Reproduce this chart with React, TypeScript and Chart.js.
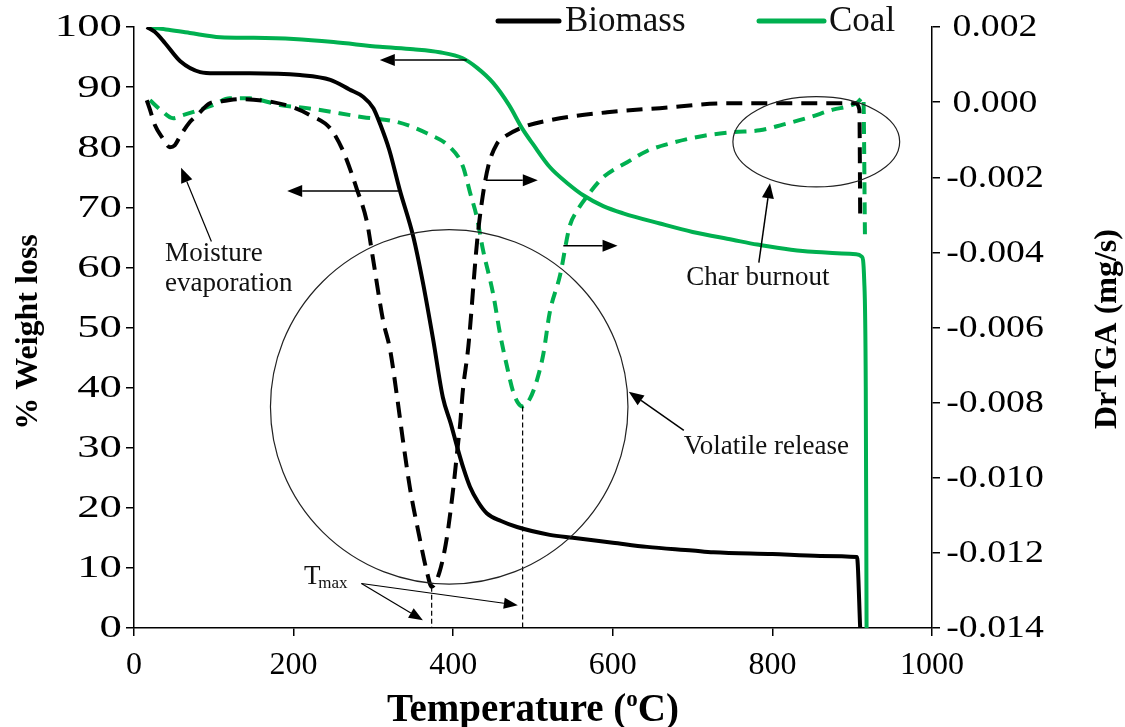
import React, { useEffect, useRef } from "react";
import { Chart, registerables } from "chart.js";

Chart.register(...registerables);

// Biomass weight curve (TGA): temperature (°C) and remaining weight (%)
const biomassTgaT = [16, 26, 39, 58, 83, 101, 145, 208, 246, 270, 287, 300, 308, 320, 333, 350, 362, 375, 387, 397, 405, 413, 421, 431, 442, 460, 480, 521, 550, 600, 643, 700, 726, 800, 860, 906, 910];
const biomassTgaW = [100, 99.2, 97.3, 94.3, 92.5, 92.3, 92.3, 92.0, 91.2, 89.6, 88.4, 86.5, 84.0, 79.5, 72.9, 65.1, 57.5, 47.9, 38.4, 34.0, 30.1, 26.5, 23.5, 21.0, 19.1, 17.8, 16.8, 15.5, 15.0, 14.2, 13.5, 12.9, 12.6, 12.3, 12.0, 11.8, 0];

// Coal weight curve (TGA)
const coalTgaT = [17, 40, 70, 108, 150, 200, 250, 308, 350, 383, 412, 430, 450, 470, 487, 500, 521, 545, 563, 588, 613, 659, 700, 750, 781, 850, 905, 912, 915, 917, 918];
const coalTgaW = [100, 99.6, 99.0, 98.3, 98.2, 98.0, 97.5, 96.7, 96.3, 95.8, 94.8, 93.2, 90.7, 87.0, 83.0, 80.5, 76.7, 73.8, 72.0, 70.2, 69.0, 67.3, 65.9, 64.6, 63.8, 62.6, 62.2, 61.8, 58.0, 40.0, 0];

// Biomass derivative curve (DrTGA, mg/s)
const biomassDtgT = [16, 20, 26, 36, 45, 51, 58, 70, 79, 95, 112, 133, 174, 202, 221, 246, 262, 279, 292, 299, 312, 321, 330, 337, 346, 356, 367, 373, 383, 392, 400, 405, 409, 412, 419, 430, 437, 444, 455, 462, 487, 521, 593, 659, 743, 835, 904, 909, 910];
const biomassDtgD = [0.00005, -0.0002, -0.0006, -0.00096, -0.0012, -0.00115, -0.0009, -0.00053, -0.00035, -0.00003, 0.00003, 0.00008, 0.0, -0.00016, -0.00035, -0.0007, -0.0013, -0.0023, -0.0032, -0.0041, -0.0058, -0.0066, -0.0079, -0.009, -0.0103, -0.0114, -0.0125, -0.0129, -0.0125, -0.0116, -0.0103, -0.0093, -0.0085, -0.0077, -0.0065, -0.0037, -0.0025, -0.0017, -0.0011, -0.00096, -0.00067, -0.00048, -0.00027, -0.00016, -0.00003, -0.00003, -0.00003, -0.0002, -0.0030];

// Coal derivative curve (DrTGA, mg/s)
const coalDtgT = [20, 33, 49, 61, 83, 99, 120, 145, 183, 217, 287, 330, 367, 396, 412, 421, 430, 437, 450, 459, 467, 475, 481, 487, 496, 505, 513, 521, 534, 546, 555, 568, 588, 618, 643, 672, 713, 751, 784, 813, 847, 876, 897, 907, 914, 916];
const coalDtgD = [0.00005, -0.0002, -0.00043, -0.00035, -0.0002, -0.00008, 0.0001, 0.0001, -0.00008, -0.00016, -0.0004, -0.00053, -0.00083, -0.0012, -0.0017, -0.0024, -0.0031, -0.0039, -0.0051, -0.0062, -0.007, -0.0077, -0.008, -0.0081, -0.0079, -0.0074, -0.0067, -0.0056, -0.0046, -0.0033, -0.0029, -0.0025, -0.002, -0.0016, -0.0013, -0.0011, -0.0009, -0.0008, -0.00075, -0.0006, -0.0004, -0.0002, -0.0001, 0.0, 0.00013, -0.0036];

const seriesNames = ["Biomass", "Coal"];
const xTicks = [0, 200, 400, 600, 800, 1000];

const BLACK = "#000000";
const GREEN = "#00B050";
const FONT = '"Liberation Serif", "Times New Roman", serif';

const pairs = (xs: number[], ys: number[]) => xs.map((x, i) => ({ x, y: ys[i] }));
const fmtRate = (v: number) => (Math.abs(v) < 1e-9 ? "0.000" : v.toFixed(3));

type Pt = [number, number];

// Find the minimum of a derivative curve (peak rate temperature)
function minPoint(xs: number[], ys: number[]): Pt {
  let k = 0;
  ys.forEach((v, i) => {
    if (v < ys[k]) k = i;
  });
  return [xs[k], ys[k]];
}

const overlayPlugin = {
  id: "overlay",
  afterDraw(chart: any) {
    const { ctx, scales } = chart;
    const sx = scales.x;
    const sy = scales.y;
    const sy1 = scales.y1;
    const px = (t: number) => sx.getPixelForValue(t);
    const py = (w: number) => sy.getPixelForValue(w);

    // Vertical axis tick labels, drawn in a slightly wide face
    const drawLabels = (scale: any, fmt: (v: number) => string, x: number, align: CanvasTextAlign, stretch: number) => {
      ctx.save();
      ctx.fillStyle = BLACK;
      ctx.font = `32px ${FONT}`;
      ctx.textAlign = align;
      ctx.textBaseline = "middle";
      scale.ticks.forEach((tk: any) => {
        const y = scale.getPixelForValue(tk.value);
        ctx.save();
        ctx.translate(x, y + 1);
        ctx.scale(stretch, 1);
        ctx.fillText(fmt(tk.value), 0, 0);
        ctx.restore();
      });
      ctx.restore();
    };
    drawLabels(sy, (v) => String(Math.round(v)), 122, "right", 1.4);
    drawLabels(sy1, fmtRate, 995, "center", 1.18);

    const arrow = (a: Pt, b: Pt, width = 1.5, head = 15, half = 6) => {
      const x0 = px(a[0]), y0 = py(a[1]);
      const x1 = px(b[0]), y1 = py(b[1]);
      const ang = Math.atan2(y1 - y0, x1 - x0);
      const bx = x1 - head * Math.cos(ang);
      const by = y1 - head * Math.sin(ang);
      ctx.save();
      ctx.strokeStyle = BLACK;
      ctx.fillStyle = BLACK;
      ctx.lineWidth = width;
      ctx.beginPath();
      ctx.moveTo(x0, y0);
      ctx.lineTo(bx, by);
      ctx.stroke();
      ctx.beginPath();
      ctx.moveTo(x1, y1);
      ctx.lineTo(bx + half * Math.sin(ang), by - half * Math.cos(ang));
      ctx.lineTo(bx - half * Math.sin(ang), by + half * Math.cos(ang));
      ctx.closePath();
      ctx.fill();
      ctx.restore();
    };

    const ellipse = (c: Pt, rt: number, rw: number) => {
      const cx = px(c[0]), cy = py(c[1]);
      const rx = Math.abs(px(c[0] + rt) - cx);
      const ry = Math.abs(py(c[1] + rw) - cy);
      ctx.save();
      ctx.strokeStyle = "#222";
      ctx.lineWidth = 1.2;
      ctx.beginPath();
      ctx.ellipse(cx, cy, rx, ry, 0, 0, Math.PI * 2);
      ctx.stroke();
      ctx.restore();
    };

    const text = (s: string, t: number, w: number, size = 27) => {
      ctx.save();
      ctx.fillStyle = "#111";
      ctx.font = `${size}px ${FONT}`;
      ctx.textAlign = "left";
      ctx.textBaseline = "middle";
      ctx.fillText(s, px(t), py(w));
      ctx.restore();
    };

    // Peak-rate guide lines down to the temperature axis
    const peaks = [minPoint(biomassDtgT, biomassDtgD), minPoint(coalDtgT, coalDtgD)];
    ctx.save();
    ctx.strokeStyle = BLACK;
    ctx.lineWidth = 1.2;
    ctx.setLineDash([5, 3]);
    peaks.forEach(([t, d]) => {
      ctx.beginPath();
      ctx.moveTo(px(t), sy1.getPixelForValue(d));
      ctx.lineTo(px(t), sy.bottom);
      ctx.stroke();
    });
    ctx.restore();

    // Axis-reference arrows
    arrow([417, 94.5], [308, 94.5]);
    arrow([331, 72.7], [192, 72.7]);
    arrow([441, 74.5], [506, 74.5]);
    arrow([538, 63.6], [606, 63.6]);

    // Moisture evaporation
    arrow([97, 64.3], [59, 76.6], 1.2);
    text("Moisture", 39, 62.2);
    text("evaporation", 39, 57.2);

    // Char burnout
    ellipse([855, 80.9], 104.5, 7.5);
    arrow([783, 60.8], [797, 74.0], 1.5);
    text("Char burnout", 692, 58.3);

    // Volatile release
    ellipse([395, 36.8], 224, 29.5);
    arrow([689, 32.9], [620, 39.3], 1.5);
    text("Volatile release", 689, 30.2);

    // Tmax label and pointers
    ctx.save();
    ctx.fillStyle = "#111";
    ctx.font = `27px ${FONT}`;
    ctx.textBaseline = "alphabetic";
    ctx.fillText("T", px(213), py(7.4));
    ctx.font = `17px ${FONT}`;
    ctx.fillText("max", px(231), py(6.6));
    ctx.restore();
    arrow([285, 7.4], [362, 1.3], 1.2, 14, 5.5);
    arrow([285, 7.4], [481, 3.8], 1.2, 14, 5.5);

    // Legend
    ctx.save();
    ctx.lineWidth = 5;
    ctx.lineCap = "round";
    ctx.font = `35px ${FONT}`;
    ctx.textBaseline = "middle";
    ctx.fillStyle = "#111";
    ctx.strokeStyle = BLACK;
    ctx.beginPath();
    ctx.moveTo(498, 21);
    ctx.lineTo(559, 21);
    ctx.stroke();
    ctx.fillText(seriesNames[0], 565, 22);
    ctx.strokeStyle = GREEN;
    ctx.beginPath();
    ctx.moveTo(759, 21);
    ctx.lineTo(824, 21);
    ctx.stroke();
    ctx.fillText(seriesNames[1], 829, 22);
    ctx.restore();

    // Axis titles
    ctx.save();
    ctx.fillStyle = BLACK;
    ctx.font = `bold 32px ${FONT}`;
    ctx.textAlign = "center";
    ctx.textBaseline = "middle";
    ctx.save();
    ctx.translate(29, 332);
    ctx.rotate(-Math.PI / 2);
    ctx.fillText("% Weight loss", 0, 0);
    ctx.restore();
    ctx.save();
    ctx.translate(1108, 329);
    ctx.rotate(-Math.PI / 2);
    ctx.fillText("DrTGA (mg/s)", 0, 0);
    ctx.restore();

    const parts: [string, number, number][] = [
      ["Temperature (", 39, 0],
      ["o", 23, -15],
      ["C)", 39, 0],
    ];
    ctx.textAlign = "left";
    ctx.textBaseline = "alphabetic";
    let total = 0;
    parts.forEach(([s, size]) => {
      ctx.font = `bold ${size}px ${FONT}`;
      total += ctx.measureText(s).width;
    });
    let cx = (sx.left + sx.right) / 2 - total / 2;
    parts.forEach(([s, size, dy]) => {
      ctx.font = `bold ${size}px ${FONT}`;
      ctx.fillText(s, cx, 721 + dy);
      cx += ctx.measureText(s).width;
    });
    ctx.restore();
  },
};

export default function App() {
  const ref = useRef<HTMLCanvasElement>(null);

  useEffect(() => {
    document.body.style.margin = "0";
    const canvas = ref.current;
    if (!canvas) return;

    const tickFont = { family: FONT, size: 32 };
    const axisGrid = {
      drawOnChartArea: false,
      drawTicks: true,
      tickLength: 8,
      color: BLACK,
      lineWidth: 1.5,
    };
    const axisBorder = { color: BLACK, width: 1.5 };

    const chart = new Chart(canvas, {
      type: "line",
      data: {
        datasets: [
          {
            label: seriesNames[0],
            data: pairs(biomassTgaT, biomassTgaW),
            borderColor: BLACK,
            borderWidth: 4,
            yAxisID: "y",
          },
          {
            label: seriesNames[1],
            data: pairs(coalTgaT, coalTgaW),
            borderColor: GREEN,
            borderWidth: 4,
            yAxisID: "y",
          },
          {
            label: seriesNames[0] + " DrTGA",
            data: pairs(biomassDtgT, biomassDtgD),
            borderColor: BLACK,
            borderWidth: 4,
            borderDash: [16, 9],
            yAxisID: "y1",
          },
          {
            label: seriesNames[1] + " DrTGA",
            data: pairs(coalDtgT, coalDtgD),
            borderColor: GREEN,
            borderWidth: 4,
            borderDash: [12, 8],
            yAxisID: "y1",
          },
        ],
      },
      options: {
        responsive: false,
        animation: false,
        devicePixelRatio: 1,
        parsing: false as any,
        layout: { padding: { top: 27, left: 0, right: 0, bottom: 0 } },
        elements: {
          point: { radius: 0, hoverRadius: 0 },
          line: { cubicInterpolationMode: "monotone", fill: false },
        },
        plugins: {
          legend: { display: false },
          tooltip: { enabled: false },
        },
        scales: {
          x: {
            type: "linear",
            min: 0,
            max: 1000,
            afterBuildTicks: (s: any) => {
              s.ticks = xTicks.map((v) => ({ value: v }));
            },
            ticks: {
              font: tickFont,
              color: BLACK,
              padding: 10,
              maxRotation: 0,
              callback: (v: any) => String(v),
            },
            grid: axisGrid,
            border: axisBorder,
            afterFit: (s: any) => {
              s.height = 99;
            },
          },
          y: {
            position: "left",
            min: 0,
            max: 100,
            ticks: { stepSize: 10, display: false },
            grid: axisGrid,
            border: axisBorder,
            afterFit: (s: any) => {
              s.width = 134;
            },
          },
          y1: {
            position: "right",
            min: -0.014,
            max: 0.002,
            ticks: { stepSize: 0.002, display: false },
            grid: axisGrid,
            border: axisBorder,
            afterFit: (s: any) => {
              s.width = 193;
            },
          },
        },
      } as any,
      plugins: [overlayPlugin],
    });

    return () => chart.destroy();
  }, []);

  return (
    <div style={{ position: "relative", width: 1125, height: 727, background: "#fff" }}>
      <canvas ref={ref} width={1125} height={727} />
    </div>
  );
}
